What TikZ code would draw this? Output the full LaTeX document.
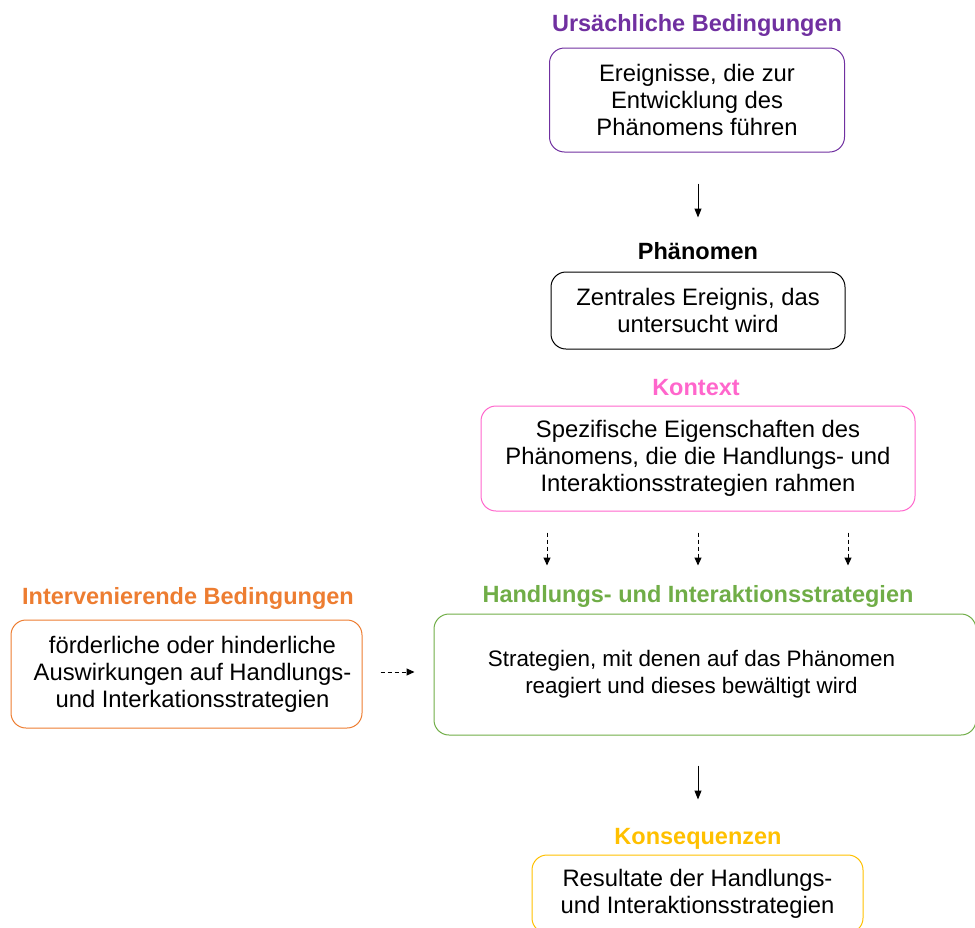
\documentclass[tikz,border=0pt]{standalone}
\usepackage{fontspec}
\setmainfont{Liberation Sans}
\usetikzlibrary{arrows.meta}
\definecolor{cpurple}{HTML}{7030A0}
\definecolor{cpink}{HTML}{FF66CC}
\definecolor{cgreen}{HTML}{70AD47}
\definecolor{corange}{HTML}{ED7D31}
\definecolor{cgold}{HTML}{FFC000}
\tikzset{
  box/.style={draw, line width=1pt, rounded corners=15pt, align=center, inner sep=0pt,
    font=\fontsize{23.8}{27}\selectfont},
  ttl/.style={anchor=base, inner sep=0pt, font=\fontsize{23.5}{27}\selectfont\bfseries},
  arr/.style={line width=1pt, -{Triangle[width=7pt,length=9pt]}},
  darr/.style={line width=1pt, dash pattern=on 4pt off 3pt, -{Triangle[width=7pt,length=8pt]}},
}
\begin{document}
\begin{tikzpicture}[x=1pt,y=-1pt]
\useasboundingbox (0,0) rectangle (975,927);
\clip (0,0) rectangle (975,927);
% titles
\node[ttl, text=cpurple] (t1) at (697,31) {Ursächliche Bedingungen};
\node[ttl, text=black] (t2) at (698,259) {Phänomen};
\node[ttl, text=cpink] (t3) at (696,395) {Kontext};
\node[ttl, text=cgreen] (t4) at (698,602) {Handlungs- und Interaktionsstrategien};
\node[ttl, text=corange] (t5) at (188,604) {Intervenierende Bedingungen};
\node[ttl, text=cgold] (t6) at (698,844) {Konsequenzen};
% boxes
\node[box, draw=cpurple, minimum width=295pt, minimum height=104pt] (b1) at (697,100) {Ereignisse, die zur\\Entwicklung des\\Phänomens führen};
\node[box, draw=black, minimum width=294pt, minimum height=77pt] (b2) at (698,310.5) {Zentrales Ereignis, das\\untersucht wird};
\node[box, draw=cpink, minimum width=434pt, minimum height=105pt] (b3) at (698,458.5) {Spezifische Eigenschaften des\\Phänomens, die die Handlungs- und\\Interaktionsstrategien rahmen};
\node[box, draw=cgreen, minimum width=542pt, minimum height=121pt, font=\fontsize{22.4}{27}\selectfont] (b4) at (705,674.5) {\hspace*{-27pt}Strategien, mit denen auf das Phänomen\\\hspace*{-27pt}reagiert und dieses bewältigt wird};
\node[box, draw=corange, minimum width=351pt, minimum height=108pt] (b5) at (186.5,674) {\hspace*{12pt}förderliche oder hinderliche\\\hspace*{12pt}Auswirkungen auf Handlungs-\\\hspace*{12pt}und Interkationsstrategien};
\node[box, draw=cgold, minimum width=331pt, minimum height=78pt] (b6) at (697.5,894) {Resultate der Handlungs-\\und Interaktionsstrategien};
% connectors
\draw[arr, shorten <=31pt, shorten >=54pt] (b1.south -| t2.base) -- (t2.base |- b2.north);
\draw[darr, shorten <=21pt, shorten >=48pt] ([xshift=-151pt]b3.south) -- ([xshift=-151pt]b3.south |- b4.north);
\draw[darr, shorten <=21pt, shorten >=48pt] (b3.south) -- (b3.south |- b4.north);
\draw[darr, shorten <=21pt, shorten >=48pt] ([xshift=150pt]b3.south) -- ([xshift=150pt]b3.south |- b4.north);
\draw[darr, shorten <=18pt, shorten >=19pt] ([yshift=2pt]b5.east) -- ([yshift=2pt]b5.east -| b4.west);
\draw[arr, shorten <=30pt, shorten >=55pt] (t6.base |- b4.south) -- (t6.base |- b6.north);
\end{tikzpicture}
\end{document}
